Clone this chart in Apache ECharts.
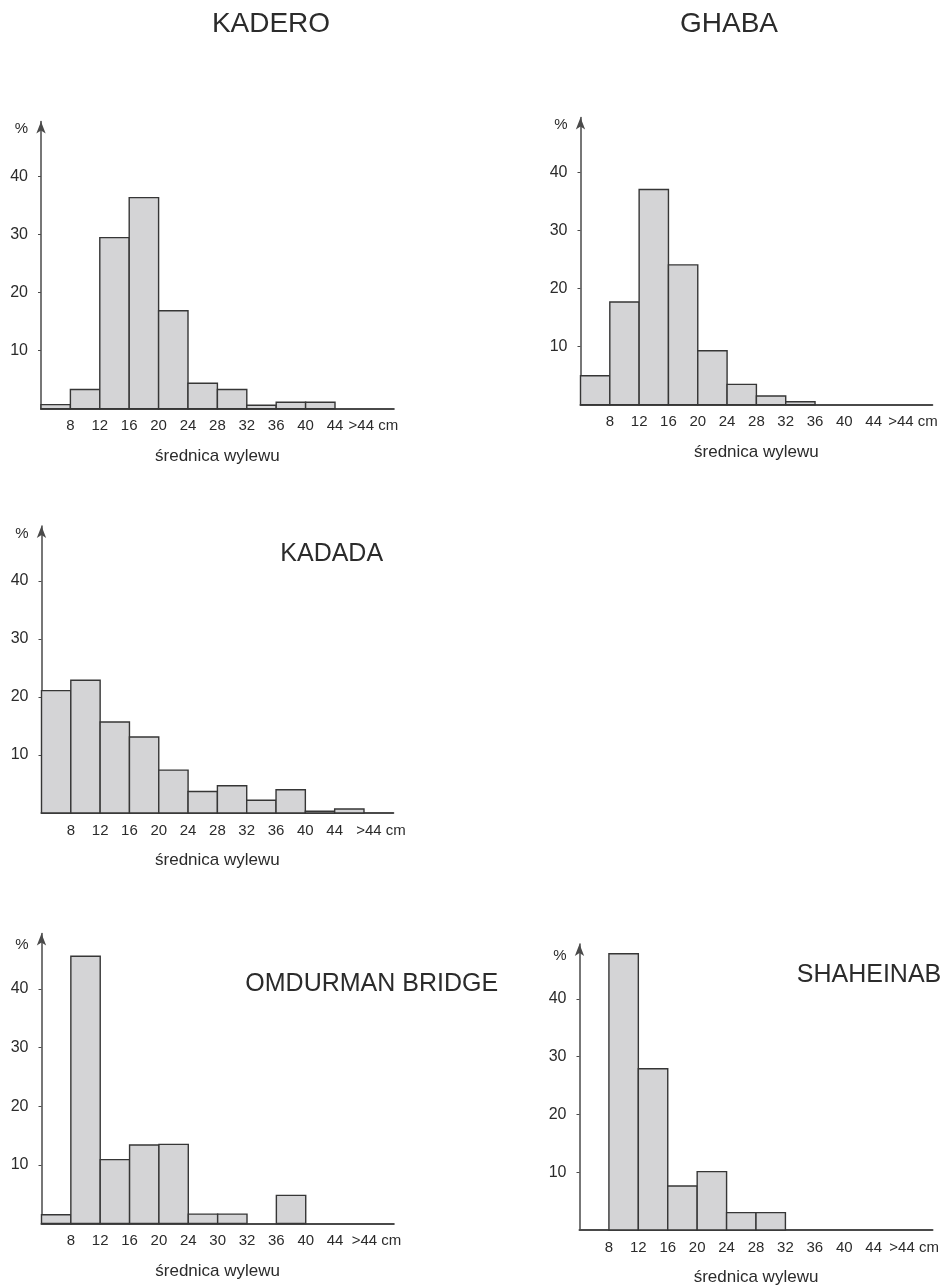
<!DOCTYPE html>
<html><head><meta charset="utf-8">
<script src="https://cdn.jsdelivr.net/npm/echarts@6/dist/echarts.min.js"></script>
<style>html,body{margin:0;padding:0;background:#fff}#c{width:944px;height:1287px}</style>
</head><body><div id="c"></div>
<script>
// ---- data ----
const binStarts = [4, 8, 12, 16, 20, 24, 28, 32, 36, 40, 44];
const binWidth = 4;
const kaderoValues    = [0.7, 3.3, 29.5, 36.4, 16.9, 4.4, 3.3, 0.6, 1.1, 1.1, 0];
const ghabaValues     = [5.0, 17.7, 37.1, 24.1, 9.3, 3.5, 1.5, 0.5, 0, 0, 0];
const kadadaValues    = [21.1, 22.9, 15.7, 13.1, 7.4, 3.7, 4.7, 2.2, 4.0, 0.3, 0.7];
const omdurmanValues  = [1.5, 45.6, 10.9, 13.4, 13.5, 1.6, 1.6, 0, 4.8, 0, 0];
const shaheinabValues = [0, 47.8, 27.9, 7.6, 10.1, 3.0, 3.0, 0, 0, 0, 0];
const xTickLabels         = ['8', '12', '16', '20', '24', '28', '32', '36', '40', '44', '>44 cm'];
const xTickLabelsOmdurman = ['8', '12', '16', '20', '24', '30', '32', '36', '40', '44', '>44 cm'];
const yTickLabels = ['10', '20', '30', '40'];
const titles = ['KADERO', 'GHABA', 'KADADA', 'OMDURMAN BRIDGE', 'SHAHEINAB'];
const xAxisName = 'średnica wylewu';
const yAxisName = '%';

// ---- layout ----
const FONT = "'Liberation Sans', Arial, sans-serif";
const TXT = '#2b2b2b';
const AX = '#4a4a4a';
const YMAX = 49.5;
const panels = [
  {values: kaderoValues,    labels: xTickLabels,         grid: {left: 41,    top: 121.6, width: 352.8, height: 287.1}, pctGap: -7.5, title: {x: 271,   y: 24,  size: 28}, lastShift: 9},
  {values: ghabaValues,     labels: xTickLabels,         grid: {left: 580.5, top: 117.6, width: 351.8, height: 287.1}, pctGap: -7.5, title: {x: 729,   y: 24,  size: 28}, lastShift: 10},
  {values: kadadaValues,    labels: xTickLabels,         grid: {left: 41.5,  top: 525.9, width: 351.8, height: 287.1}, pctGap: -7.5, title: {x: 331.7, y: 554, size: 25}, lastShift: 17},
  {values: omdurmanValues,  labels: xTickLabelsOmdurman, grid: {left: 41.5,  top: 933.4, width: 352.3, height: 290.1}, pctGap: -11.5, title: {x: 371.7, y: 984, size: 25}, lastShift: 12},
  {values: shaheinabValues, labels: xTickLabels,         grid: {left: 579.5, top: 943.9, width: 353,   height: 290.1}, pctGap: -12, title: {x: 869,   y: 975, size: 25}, lastShift: 11}
];

const binEnds = binStarts.map(s => s + binWidth);
const yTickValues = yTickLabels.map(Number);

const grids = [], xAxes = [], yAxes = [], series = [], graphics = [];
panels.forEach((p, i) => {
  grids.push(Object.assign({containLabel: false}, p.grid));
  const labels = p.labels;
  xAxes.push({
    gridIndex: i, type: 'value', min: 4, max: 52, interval: 4,
    axisLine: {show: true, onZero: false, lineStyle: {color: AX, width: 2}},
    axisTick: {show: false}, splitLine: {show: false},
    axisLabel: {
      customValues: binEnds,
      color: TXT, fontSize: 15, fontFamily: FONT, margin: 10,
      formatter: v => {
        const k = binEnds.indexOf(v);
        if (k < 0) return '';
        if (k === labels.length - 1) return '{last|' + labels[k] + '}';
        return labels[k];
      },
      rich: {last: {fontSize: 15, fontFamily: FONT, color: TXT, padding: [0, 0, 0, 2 * p.lastShift]}}
    },
    name: xAxisName, nameLocation: 'middle', nameGap: 39,
    nameTextStyle: {fontSize: 17, fontFamily: FONT, color: TXT}
  });
  yAxes.push({
    gridIndex: i, type: 'value', min: 0, max: YMAX, interval: 10,
    axisLine: {show: true, lineStyle: {color: AX, width: 1.5}, symbol: ['none', 'arrow'], symbolSize: [7, 12]},
    axisTick: {show: true, customValues: yTickValues, length: 3, lineStyle: {color: AX, width: 1}},
    splitLine: {show: false},
    axisLabel: {
      customValues: yTickValues,
      color: TXT, fontSize: 16, fontFamily: FONT, margin: 13,
      formatter: v => { const s = String(v); return yTickLabels.indexOf(s) >= 0 ? s : ''; }
    },
    name: yAxisName, nameLocation: 'end', nameGap: p.pctGap,
    nameTextStyle: {align: 'right', verticalAlign: 'middle', padding: [0, 13, 0, 0], fontSize: 15, fontFamily: FONT, color: TXT}
  });
  series.push({
    type: 'custom', xAxisIndex: i, yAxisIndex: i, silent: true, animation: false,
    data: binStarts.map((s, j) => [s, s + binWidth, p.values[j]]),
    encode: {x: [0, 1], y: 2},
    renderItem: (params, api) => {
      const v = api.value(2);
      if (!v) return null;
      const a = api.coord([api.value(0), v]);
      const b = api.coord([api.value(1), 0]);
      return {type: 'rect', shape: {x: a[0], y: a[1], width: b[0] - a[0], height: b[1] - a[1]},
              style: {fill: '#d4d4d6', stroke: '#363636', lineWidth: 1.4}};
    }
  });
  graphics.push({type: 'text', x: p.title.x, y: p.title.y,
    style: {text: titles[i], font: p.title.size + 'px ' + FONT, fill: TXT, textAlign: 'center', textVerticalAlign: 'middle'}});
});

const chart = echarts.init(document.getElementById('c'), null, {renderer: 'canvas'});
chart.setOption({
  animation: false,
  backgroundColor: '#ffffff',
  grid: grids, xAxis: xAxes, yAxis: yAxes, series: series, graphic: graphics
});
</script>
</body></html>
